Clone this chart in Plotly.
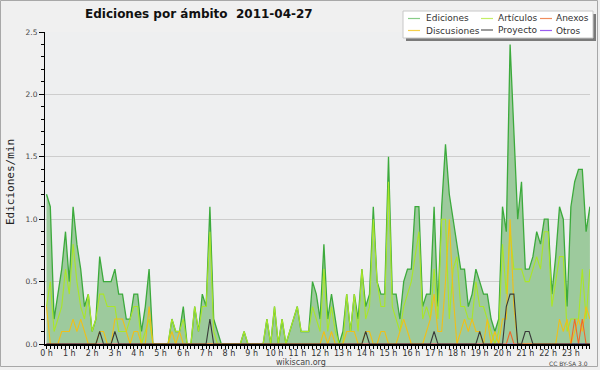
import plotly.graph_objects as go

# time slots (10-minute bins, expressed in hours)
slots = [i / 6 for i in range(144)]
hour_ticks = list(range(24))
hour_labels = [f"{h} h" for h in range(24)]

ediciones = [
    1.2, 1.1, 0.2, 0.4, 0.6, 0.9, 0.5, 1.1, 0.8, 0.6, 0.3, 0.4,
    0.1, 0.2, 0.7, 0.5, 0.5, 0.5, 0.6, 0.4, 0.4, 0.2, 0.2, 0.4,
    0.4, 0.1, 0.3, 0.6, 0.0, 0.0, 0.0, 0.0, 0.0, 0.2, 0.1, 0.1,
    0.3, 0.0, 0.0, 0.3, 0.1, 0.4, 0.3, 1.1, 0.2, 0.1, 0.0, 0.0,
    0.0, 0.0, 0.0, 0.0, 0.1, 0.0, 0.0, 0.0, 0.0, 0.0, 0.2, 0.0,
    0.3, 0.0, 0.2, 0.0, 0.1, 0.2, 0.3, 0.1, 0.1, 0.1, 0.5, 0.4,
    0.2, 0.8, 0.2, 0.4, 0.2, 0.0, 0.1, 0.4, 0.1, 0.4, 0.2, 0.6,
    0.3, 0.4, 1.1, 0.5, 0.4, 0.4, 1.5, 0.4, 0.4, 0.2, 0.5, 0.6,
    0.6, 1.1, 1.1, 0.3, 0.4, 0.4, 1.1, 0.3, 1.1, 1.6, 1.2, 1.0,
    0.8, 0.6, 0.6, 0.3, 0.4, 0.6, 0.5, 0.4, 0.4, 0.2, 0.1, 0.2,
    1.1, 0.9, 2.4, 1.7, 1.0, 1.3, 0.6, 0.6, 0.7, 0.9, 0.8, 1.0,
    1.0, 0.4, 0.7, 1.1, 1.0, 0.3, 1.1, 1.3, 1.4, 1.4, 0.9, 1.1,
]

articulos = [
    0.3, 0.5, 0.1, 0.2, 0.3, 0.6, 0.4, 0.8, 0.5, 0.3, 0.2, 0.4,
    0.1, 0.2, 0.4, 0.4, 0.3, 0.3, 0.3, 0.1, 0.1, 0.1, 0.2, 0.3,
    0.3, 0.0, 0.1, 0.2, 0.0, 0.0, 0.0, 0.0, 0.0, 0.2, 0.1, 0.1,
    0.2, 0.0, 0.0, 0.3, 0.1, 0.3, 0.3, 0.9, 0.1, 0.0, 0.0, 0.0,
    0.0, 0.0, 0.0, 0.0, 0.1, 0.0, 0.0, 0.0, 0.0, 0.0, 0.2, 0.0,
    0.3, 0.0, 0.2, 0.0, 0.1, 0.2, 0.3, 0.1, 0.1, 0.1, 0.3, 0.2,
    0.1, 0.6, 0.1, 0.3, 0.1, 0.0, 0.0, 0.4, 0.1, 0.4, 0.1, 0.6,
    0.2, 0.3, 1.0, 0.5, 0.3, 0.3, 1.3, 0.3, 0.2, 0.1, 0.3, 0.4,
    0.5, 0.7, 0.9, 0.2, 0.3, 0.2, 0.6, 0.2, 1.0, 1.0, 0.2, 0.6,
    0.7, 0.3, 0.3, 0.2, 0.2, 0.5, 0.3, 0.3, 0.2, 0.1, 0.0, 0.1,
    0.8, 0.4, 0.9, 0.6, 0.6, 0.6, 0.5, 0.5, 0.6, 0.7, 0.6, 0.9,
    0.9, 0.3, 0.5, 0.7, 0.7, 0.1, 0.2, 0.2, 0.2, 0.6, 0.2, 0.6,
]

discusiones = [
    0.3, 0.0, 0.0, 0.0, 0.1, 0.1, 0.1, 0.2, 0.1, 0.2, 0.1, 0.0,
    0.0, 0.0, 0.1, 0.1, 0.0, 0.0, 0.2, 0.2, 0.2, 0.1, 0.0, 0.1,
    0.1, 0.0, 0.0, 0.3, 0.0, 0.0, 0.0, 0.0, 0.0, 0.1, 0.0, 0.1,
    0.0, 0.0, 0.0, 0.0, 0.0, 0.0, 0.0, 0.0, 0.0, 0.0, 0.0, 0.0,
    0.0, 0.0, 0.0, 0.0, 0.0, 0.0, 0.0, 0.0, 0.0, 0.0, 0.0, 0.0,
    0.0, 0.0, 0.0, 0.0, 0.0, 0.0, 0.0, 0.0, 0.0, 0.0, 0.0, 0.0,
    0.0, 0.1, 0.0, 0.1, 0.0, 0.0, 0.0, 0.1, 0.1, 0.1, 0.0, 0.0,
    0.1, 0.1, 0.0, 0.0, 0.1, 0.1, 0.0, 0.0, 0.0, 0.1, 0.2, 0.1,
    0.0, 0.0, 0.0, 0.0, 0.1, 0.2, 0.4, 0.1, 0.1, 0.5, 1.0, 0.4,
    0.0, 0.1, 0.2, 0.1, 0.2, 0.1, 0.1, 0.0, 0.2, 0.0, 0.1, 0.0,
    0.2, 0.2, 1.0, 0.3, 0.0, 0.0, 0.0, 0.0, 0.0, 0.0, 0.0, 0.0,
    0.0, 0.0, 0.0, 0.2, 0.1, 0.2, 0.0, 0.1, 0.2, 0.1, 0.3, 0.2,
]

proyecto = [0.0] * 144
for k, v in {14: 0.1, 18: 0.1, 43: 0.2, 84: 0.1, 102: 0.1, 114: 0.1,
             121: 0.3, 122: 0.4, 123: 0.4, 126: 0.1, 127: 0.1}.items():
    proyecto[k] = v

anexos = [0.0] * 144
for k, v in {122: 0.1, 139: 0.2, 141: 0.2}.items():
    anexos[k] = v

otros = [0.0] * 144

line_colors = {
    "Ediciones": "#3caa3c",
    "Artículos": "#aae628",
    "Anexos": "#f0682a",
    "Discusiones": "#f0c018",
    "Proyecto": "#383838",
    "Otros": "#9448e8",
}
legend_colors = {
    "Ediciones": "#88cc88",
    "Artículos": "#c4ee66",
    "Anexos": "#f08c5c",
    "Discusiones": "#f6d04a",
    "Proyecto": "#5a5a5a",
    "Otros": "#9a5cf0",
}

# plot-area geometry (pixels)
L, R, T, B = 45, 590, 32, 344
W, H = 600, 370
PPH = 22.8          # pixels per hour
X0PIX = 46.5        # pixel of 0 h
xmin = (L - X0PIX) / PPH
xmax = (R - X0PIX) / PPH


def px(x):
    return (x - L) / (R - L)


def py(y):
    return 1 - (y - T) / (B - T)


fig = go.Figure()

fig.add_trace(go.Scatter(
    x=slots, y=ediciones, mode="lines", fill="tozeroy",
    fillcolor="#9dca9d", line=dict(color=line_colors["Ediciones"], width=1.3),
    showlegend=False, hoverinfo="skip"))
fig.add_trace(go.Scatter(x=slots, y=otros, mode="lines",
                         line=dict(color=line_colors["Otros"], width=1.1),
                         showlegend=False, hoverinfo="skip"))
fig.add_trace(go.Scatter(x=slots, y=articulos, mode="lines",
                         line=dict(color=line_colors["Artículos"], width=1.1),
                         showlegend=False, hoverinfo="skip"))
fig.add_trace(go.Scatter(x=slots, y=discusiones, mode="lines",
                         line=dict(color=line_colors["Discusiones"], width=1.1),
                         showlegend=False, hoverinfo="skip"))
fig.add_trace(go.Scatter(x=slots, y=anexos, mode="lines",
                         line=dict(color=line_colors["Anexos"], width=1.1),
                         showlegend=False, hoverinfo="skip"))
fig.add_trace(go.Scatter(x=slots, y=proyecto, mode="lines",
                         line=dict(color=line_colors["Proyecto"], width=1.1),
                         showlegend=False, hoverinfo="skip"))

shapes = []
annotations = []

# outer frame
shapes.append(dict(type="rect", xref="paper", yref="paper",
                   x0=px(0.5), x1=px(597.5), y0=py(0.5), y1=py(366.5),
                   line=dict(color="#a8a8a8", width=1), layer="below"))

# legend box with shadow
shapes.append(dict(type="rect", xref="paper", yref="paper",
                   x0=px(406), x1=px(596), y0=py(14), y1=py(41),
                   line=dict(width=0), fillcolor="#7a7a7a", layer="above"))
shapes.append(dict(type="rect", xref="paper", yref="paper",
                   x0=px(403), x1=px(593), y0=py(11), y1=py(38),
                   line=dict(color="#c8c8c8", width=1), fillcolor="#ffffff", layer="above"))

legend_layout = [
    ("Ediciones", 408, 425, 18.5),
    ("Artículos", 481, 497, 18.5),
    ("Anexos", 540, 555, 18.5),
    ("Discusiones", 408, 425, 30.5),
    ("Proyecto", 481, 497, 30.0),
    ("Otros", 540, 555, 30.5),
]
for name, sx, tx, yy in legend_layout:
    shapes.append(dict(type="line", xref="paper", yref="paper",
                       x0=px(sx), x1=px(sx + 12), y0=py(yy), y1=py(yy),
                       line=dict(color=legend_colors[name], width=1.2), layer="above"))
    annotations.append(dict(xref="paper", yref="paper", x=px(tx), y=py(yy),
                            xanchor="left", yanchor="middle", showarrow=False,
                            borderpad=0, text=name,
                            font=dict(family="DejaVu Sans", size=9, color="#333333")))

annotations.append(dict(xref="paper", yref="paper", x=px(301), y=py(362.5),
                        xanchor="center", yanchor="middle", showarrow=False,
                        text="wikiscan.org",
                        font=dict(family="DejaVu Sans", size=8, color="#444444")))
annotations.append(dict(xref="paper", yref="paper", x=px(590), y=py(363),
                        xanchor="right", yanchor="middle", showarrow=False,
                        text="CC BY-SA 3.0",
                        font=dict(family="DejaVu Sans", size=6, color="#444444")))
annotations.append(dict(xref="paper", yref="paper", x=px(10), y=py(182),
                        xanchor="center", yanchor="middle", showarrow=False,
                        textangle=-90, text="Ediciones/min",
                        font=dict(family="DejaVu Sans Mono", size=11, color="#222222")))

fig.update_layout(
    width=W, height=H,
    margin=dict(l=L, r=W - R, t=T, b=H - B, pad=0),
    paper_bgcolor="#f0f0f0",
    plot_bgcolor="#eeeff0",
    showlegend=False,
    title=dict(text="<b>Ediciones por ámbito  2011-04-27</b>",
               x=85 / W, xanchor="left", y=1 - 14 / H, yanchor="middle",
               font=dict(family="DejaVu Sans", size=12, color="#111111")),
    shapes=shapes,
    annotations=annotations,
    xaxis=dict(
        range=[xmin, xmax], tickmode="array", tickvals=hour_ticks, ticktext=hour_labels,
        showgrid=False, zeroline=False, showline=True, linecolor="#000000", linewidth=1.5,
        ticks="outside", ticklen=3, tickwidth=1, tickcolor="#000000",
        ticklabelstandoff=-2,
        tickfont=dict(family="DejaVu Sans", size=8, color="#333333"),
        minor=dict(tickmode="linear", tick0=0, dtick=1 / 6, ticks="outside",
                   ticklen=3, tickwidth=1, tickcolor="#000000", showgrid=False),
        fixedrange=True,
    ),
    yaxis=dict(
        range=[0, 2.5], tickmode="linear", tick0=0, dtick=0.5, tickformat=".1f",
        showgrid=True, gridcolor="#cdcdcd", gridwidth=1, zeroline=False,
        showline=True, linecolor="#000000", linewidth=1,
        ticks="outside", ticklen=5, tickwidth=1, tickcolor="#000000",
        tickfont=dict(family="DejaVu Sans", size=7.5, color="#444444"),
        minor=dict(tickmode="linear", tick0=0, dtick=0.1, ticks="outside",
                   ticklen=3, tickwidth=1, tickcolor="#000000", showgrid=False),
        fixedrange=True,
    ),
)

fig.write_html("out.html", config={"displayModeBar": False},
               post_script="document.body.style.margin='0';document.body.style.overflow='hidden';")
